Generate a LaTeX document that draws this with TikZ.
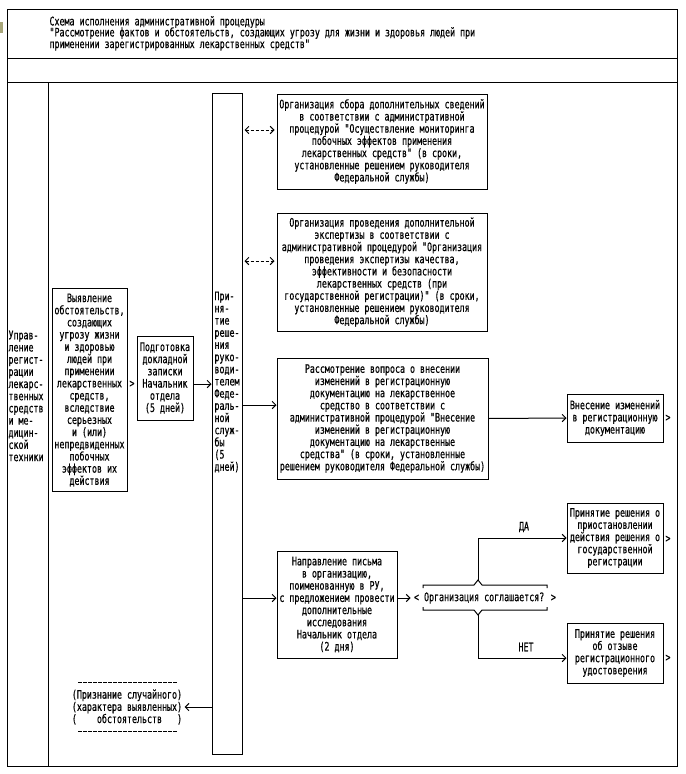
\documentclass[tikz,border=0pt]{standalone}
\usepackage{fontspec}
\newfontfamily\schemefont[FakeStretch=0.71, FakeBold=0.5]{DejaVu Sans Mono}
\usetikzlibrary{arrows.meta}
\definecolor{markolive}{RGB}{168,166,122}

\begin{document}
\begin{tikzpicture}[x=0.3mm, y=-0.3mm, line width=0.3mm,
    font=\schemefont\fontsize{10}{10.4}\selectfont,
    box/.style={draw, align=center, inner sep=0pt},
    txt/.style={align=left, inner sep=0pt},
    arr/.style={-{Straight Barb[length=1.1mm, width=2.2mm]}},
    dasharr/.style={{Straight Barb[length=1.1mm, width=2.2mm]}-{Straight Barb[length=1.1mm, width=2.2mm]},
        dash pattern=on 1.05mm off 0.45mm, shorten <=0.6mm, shorten >=0.6mm},
    dashrule/.style={dash pattern=on 1.05mm off 0.45mm}]

    \useasboundingbox (0,0) rectangle (685,774);

    % ===== Frame =====
    \draw (7,9) rectangle (677,766);
    \draw (7,58) -- (677,58);
    \draw (7,82) -- (677,82);
    \draw (48,82) -- (48,766);
    \fill[markolive] (0,22) rectangle (3,33);

    % ===== Title =====
    \node[txt, anchor=west] (title1) at (49,22) {Схема исполнения административной процедуры};
    \node[txt, anchor=west] (title2) at (49,33) {"Рассмотрение фактов и обстоятельств, создающих угрозу для жизни и здоровья людей при};
    \node[txt, anchor=west] (title3) at (49,45) {применении зарегистрированных лекарственных средств"};

    % ===== Left column =====
    \node[txt, anchor=west] (upr) at (8,396) {Управ-\\ление\\регист-\\рации\\лекарс-\\твенных\\средств\\и ме-\\дицин-\\ской\\техники};

    % ===== Main chain =====
    \node[box, minimum width=22.5mm, minimum height=60.9mm] (vyyav) at (89.5,390)
        {Выявление\\обстоятельств,\\создающих\\угрозу жизни\\и здоровью\\людей при\\применении\\лекарственных\\средств,\\вследствие\\серьезных\\и (или)\\непредвиденных\\побочных\\эффектов их\\действия};
    \node (gtA) at (132,384) {>};
    \node[box, minimum width=16.8mm, minimum height=25.2mm] (podg) at (165,378)
        {Подготовка\\докладной\\записки\\Начальник\\отдела\\(5 дней)};
    \node[box, minimum width=9mm, minimum height=198mm] (tall) at (227,424) {};
    \node[txt] (tallTxt) at (227,382) {При-\\ня-\\тие\\реше-\\ния\\руко-\\води-\\телем\\Феде-\\раль-\\ной\\служ-\\бы\\(5\\дней)};

    % ===== Right boxes =====
    \node[box, minimum width=63mm, minimum height=28.5mm] (sbor) at (382,141.5)
        {Организация сбора дополнительных сведений\\в соответствии с административной\\процедурой "Осуществление мониторинга\\побочных эффектов применения\\лекарственных средств" (в сроки,\\установленные решением руководителя\\Федеральной службы)};
    \node[box, minimum width=63mm, minimum height=35.4mm] (ekspert) at (382,272)
        {Организация проведения дополнительной\\экспертизы в соответствии с\\административной процедурой "Организация\\проведения экспертизы качества,\\эффективности и безопасности\\лекарственных средств (при\\государственной регистрации)" (в сроки,\\установленные решением руководителя\\Федеральной службы)};
    \node[box, minimum width=63.3mm, minimum height=36.3mm] (rassm) at (382.5,418.5)
        {Рассмотрение вопроса о внесении\\изменений в регистрационную\\документацию на лекарственное\\средство в соответствии с\\административной процедурой "Внесение\\изменений в регистрационную\\документацию на лекарственные\\средства" (в сроки, установленные\\решением руководителя Федеральной службы)};
    \node[box, minimum width=28.8mm, minimum height=14.4mm] (vnes) at (615,418)
        {Внесение изменений\\в регистрационную\\документацию};
    \node[box, minimum width=36mm, minimum height=32.1mm] (napr) at (337,604.5)
        {Направление письма\\в организацию,\\поименованную в РУ,\\с предложением провести\\дополнительные\\исследования\\Начальник отдела\\(2 дня)};
    \node[inner sep=0pt] (resh) at (485,598) {< Организация соглашается? >};
    \node[box, minimum width=28.8mm, minimum height=21mm] (prios) at (615,538)
        {Принятие решения о\\приостановлении\\действия решения о\\государственной\\регистрации};
    \node[box, minimum width=28.8mm, minimum height=18mm] (otzyv) at (615,653)
        {Принятие решения\\об отзыве\\регистрационного\\удостоверения};
    \node (gtV) at (668,418) {>};
    \node (gtP) at (668,539) {>};
    \node (gtO) at (668,658) {>};

    % decision frame
    \coordinate (peakT) at (478,580);
    \coordinate (peakB) at (478,615);
    \draw (423,588) -- (423,585) -- (474,585) -- (peakT) -- (482,585) -- (547,585) -- (547,588);
    \draw (423,607) -- (423,610) -- (474,610) -- (peakB) -- (482,610) -- (547,610) -- (547,607);
    \node (da) at (524,527) {ДА};
    \node (net) at (526,647) {НЕТ};

    % ===== Bottom left note =====
    \draw[dashrule] (78,682) -- (178,682);
    \draw[dashrule] (78,731) -- (178,731);
    \node[txt] (prizn) at (127,707) {(Признание случайного)\\(характера выявленных)\\(\ \ \ \ обстоятельств\ \ \ )};

    % ===== Connectors =====
    \draw[arr] (podg.east |- 0,384) -- (tall.west |- 0,384);
    \draw[dasharr] (tall.east |- 0,130) -- (sbor.west |- 0,130);
    \draw[dasharr] (tall.east |- 0,261) -- (ekspert.west |- 0,261);
    \draw[arr] (tall.east |- 0,405) -- (rassm.west |- 0,405);
    \draw[arr] (rassm.east) -- (vnes.west);
    \draw[arr] (tall.east |- 0,598) -- (napr.west |- 0,598);
    \draw[arr, shorten >=0.9mm] (napr.east |- 0,598) -- (resh.west);
    \draw[arr] (peakT) |- (prios.west);
    \draw[arr] (peakB) |- ([yshift=-1.5mm]otzyv.west);
    \draw[arr, shorten >=0.6mm] (tall.west |- 0,707) -- (prizn.east |- 0,707);

\end{tikzpicture}
\end{document}
